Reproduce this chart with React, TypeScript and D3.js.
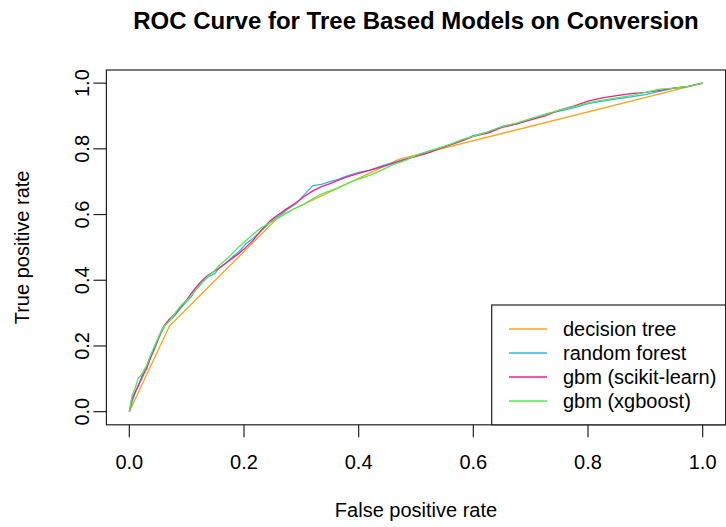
import React, { useEffect, useRef } from "react";
import * as d3 from "d3";

// ROC points
const treeFpr = [0, 0.07, 0.263, 0.47, 1];
const treeTpr = [0, 0.261, 0.597, 0.768, 1];

const fprGrid = [0, 0.005, 0.01, 0.015, 0.022, 0.03, 0.036, 0.044, 0.051, 0.057, 0.062, 0.068, 0.074, 0.082, 0.091, 0.1, 0.109, 0.117, 0.126, 0.137, 0.149, 0.158, 0.167, 0.178, 0.19, 0.203, 0.216, 0.23, 0.245, 0.26, 0.275, 0.29, 0.305, 0.32, 0.335, 0.35, 0.365, 0.38, 0.4, 0.42, 0.44, 0.46, 0.48, 0.5, 0.52, 0.54, 0.56, 0.58, 0.6, 0.625, 0.65, 0.675, 0.7, 0.725, 0.75, 0.775, 0.8, 0.825, 0.85, 0.875, 0.9, 0.925, 0.95, 0.975, 1];

const rfTpr = [0, 0.03, 0.055, 0.08, 0.1, 0.135, 0.16, 0.19, 0.222, 0.245, 0.262, 0.275, 0.283, 0.298, 0.318, 0.335, 0.352, 0.378, 0.392, 0.41, 0.42, 0.44, 0.45, 0.468, 0.485, 0.51, 0.528, 0.55, 0.575, 0.595, 0.615, 0.632, 0.66, 0.688, 0.692, 0.7, 0.708, 0.718, 0.728, 0.735, 0.748, 0.758, 0.768, 0.778, 0.79, 0.802, 0.814, 0.826, 0.84, 0.85, 0.868, 0.875, 0.89, 0.905, 0.915, 0.925, 0.938, 0.945, 0.952, 0.958, 0.965, 0.975, 0.985, 0.99, 1];

const gbmTpr = [0, 0.04, 0.06, 0.075, 0.108, 0.13, 0.16, 0.195, 0.225, 0.25, 0.265, 0.278, 0.288, 0.302, 0.322, 0.34, 0.362, 0.38, 0.398, 0.415, 0.428, 0.438, 0.45, 0.465, 0.48, 0.5, 0.522, 0.552, 0.58, 0.6, 0.618, 0.635, 0.655, 0.672, 0.685, 0.694, 0.705, 0.715, 0.725, 0.735, 0.745, 0.756, 0.767, 0.777, 0.787, 0.8, 0.812, 0.824, 0.838, 0.848, 0.865, 0.876, 0.888, 0.9, 0.918, 0.93, 0.945, 0.955, 0.962, 0.968, 0.972, 0.978, 0.985, 0.99, 1];

const xgbTpr = [0, 0.05, 0.07, 0.1, 0.115, 0.14, 0.168, 0.2, 0.228, 0.25, 0.262, 0.272, 0.285, 0.305, 0.325, 0.338, 0.355, 0.372, 0.39, 0.412, 0.43, 0.448, 0.46, 0.478, 0.5, 0.52, 0.54, 0.56, 0.575, 0.59, 0.605, 0.62, 0.632, 0.648, 0.662, 0.672, 0.682, 0.695, 0.708, 0.72, 0.735, 0.752, 0.764, 0.78, 0.792, 0.802, 0.814, 0.828, 0.838, 0.852, 0.868, 0.878, 0.892, 0.905, 0.918, 0.928, 0.94, 0.948, 0.955, 0.962, 0.972, 0.982, 0.985, 0.99, 1];

const modelNames = ["decision tree", "random forest", "gbm (scikit-learn)", "gbm (xgboost)"];
const modelColors = ["#FFA31A", "#2DB6EE", "#FF1A8C", "#4DEE4D"];
const tickValues = [0, 0.2, 0.4, 0.6, 0.8, 1.0];

export default function App() {
  const svgRef = useRef<SVGSVGElement>(null);
  const width = 726;
  const height = 527;

  useEffect(() => {
    const svg = d3.select(svgRef.current);
    svg.selectAll("*").remove();
    const font = "'Liberation Sans', Arial, Helvetica, sans-serif";

    // R style: 4% padding on each side of the data range
    const x = d3.scaleLinear().domain([-0.04, 1.04]).range([106.4, 725.6]);
    const y = d3.scaleLinear().domain([-0.04, 1.04]).range([424.8, 70]);

    const series = [
      treeFpr.map((f, i) => [f, treeTpr[i]]),
      fprGrid.map((f, i) => [f, rfTpr[i]]),
      fprGrid.map((f, i) => [f, gbmTpr[i]]),
      fprGrid.map((f, i) => [f, xgbTpr[i]]),
    ];

    const line = d3
      .line<number[]>()
      .x((d) => x(d[0]))
      .y((d) => y(d[1]));

    svg
      .selectAll(".roc")
      .data(series)
      .enter()
      .append("path")
      .attr("class", "roc")
      .attr("d", (d: any) => line(d))
      .attr("fill", "none")
      .attr("stroke", (d, i) => modelColors[i])
      .attr("stroke-width", 1.3)
      .attr("stroke-linejoin", "round");

    // plot box
    svg
      .append("rect")
      .attr("x", x(-0.04))
      .attr("y", y(1.04))
      .attr("width", x(1.04) - x(-0.04))
      .attr("height", y(-0.04) - y(1.04))
      .attr("fill", "none")
      .attr("stroke", "#222")
      .attr("stroke-width", 1.2);

    // x axis ticks + labels
    const bottom = y(-0.04);
    svg
      .selectAll(".xtick")
      .data(tickValues)
      .enter()
      .append("line")
      .attr("x1", (d) => x(d))
      .attr("x2", (d) => x(d))
      .attr("y1", bottom)
      .attr("y2", bottom + 12.5)
      .attr("stroke", "#222")
      .attr("stroke-width", 1.2);
    svg
      .selectAll(".xlab")
      .data(tickValues)
      .enter()
      .append("text")
      .attr("x", (d) => x(d))
      .attr("y", 469)
      .attr("text-anchor", "middle")
      .attr("font-family", font)
      .attr("font-size", 20)
      .text((d) => d3.format(".1f")(d));

    // y axis ticks + labels
    const left = x(-0.04);
    svg
      .selectAll(".ytick")
      .data(tickValues)
      .enter()
      .append("line")
      .attr("x1", left - 13)
      .attr("x2", left)
      .attr("y1", (d) => y(d))
      .attr("y2", (d) => y(d))
      .attr("stroke", "#222")
      .attr("stroke-width", 1.2);
    svg
      .selectAll(".ylab")
      .data(tickValues)
      .enter()
      .append("text")
      .attr("transform", (d) => `translate(89, ${y(d)}) rotate(-90)`)
      .attr("text-anchor", "middle")
      .attr("font-family", font)
      .attr("font-size", 20)
      .text((d) => d3.format(".1f")(d));

    // titles
    const midX = (x(-0.04) + x(1.04)) / 2;
    const midY = (y(-0.04) + y(1.04)) / 2;
    svg
      .append("text")
      .attr("x", midX)
      .attr("y", 29)
      .attr("text-anchor", "middle")
      .attr("font-family", font)
      .attr("font-size", 24)
      .attr("font-weight", "bold")
      .text("ROC Curve for Tree Based Models on Conversion");
    svg
      .append("text")
      .attr("x", midX)
      .attr("y", 517)
      .attr("text-anchor", "middle")
      .attr("font-family", font)
      .attr("font-size", 20)
      .text("False positive rate");
    svg
      .append("text")
      .attr("transform", `translate(29, ${midY}) rotate(-90)`)
      .attr("text-anchor", "middle")
      .attr("font-family", font)
      .attr("font-size", 20)
      .text("True positive rate");

    // legend
    const lg = svg.append("g");
    lg.append("rect")
      .attr("x", 491.7)
      .attr("y", 305)
      .attr("width", x(1.04) - 491.7)
      .attr("height", bottom - 305)
      .attr("fill", "white")
      .attr("stroke", "#222")
      .attr("stroke-width", 1.2);
    const rowY = (i: number) => 329 + i * 24;
    lg.selectAll(".lgline")
      .data(modelNames)
      .enter()
      .append("line")
      .attr("x1", 509)
      .attr("x2", 547)
      .attr("y1", (d, i) => rowY(i))
      .attr("y2", (d, i) => rowY(i))
      .attr("stroke", (d, i) => modelColors[i])
      .attr("stroke-width", 1.3);
    lg.selectAll(".lgtext")
      .data(modelNames)
      .enter()
      .append("text")
      .attr("x", 563)
      .attr("y", (d, i) => rowY(i) + 7)
      .attr("font-family", font)
      .attr("font-size", 20)
      .text((d) => d);
  }, []);

  return (
    <svg
      ref={svgRef}
      width={width}
      height={height}
      style={{ position: "absolute", left: 0, top: 0, background: "white" }}
    />
  );
}
